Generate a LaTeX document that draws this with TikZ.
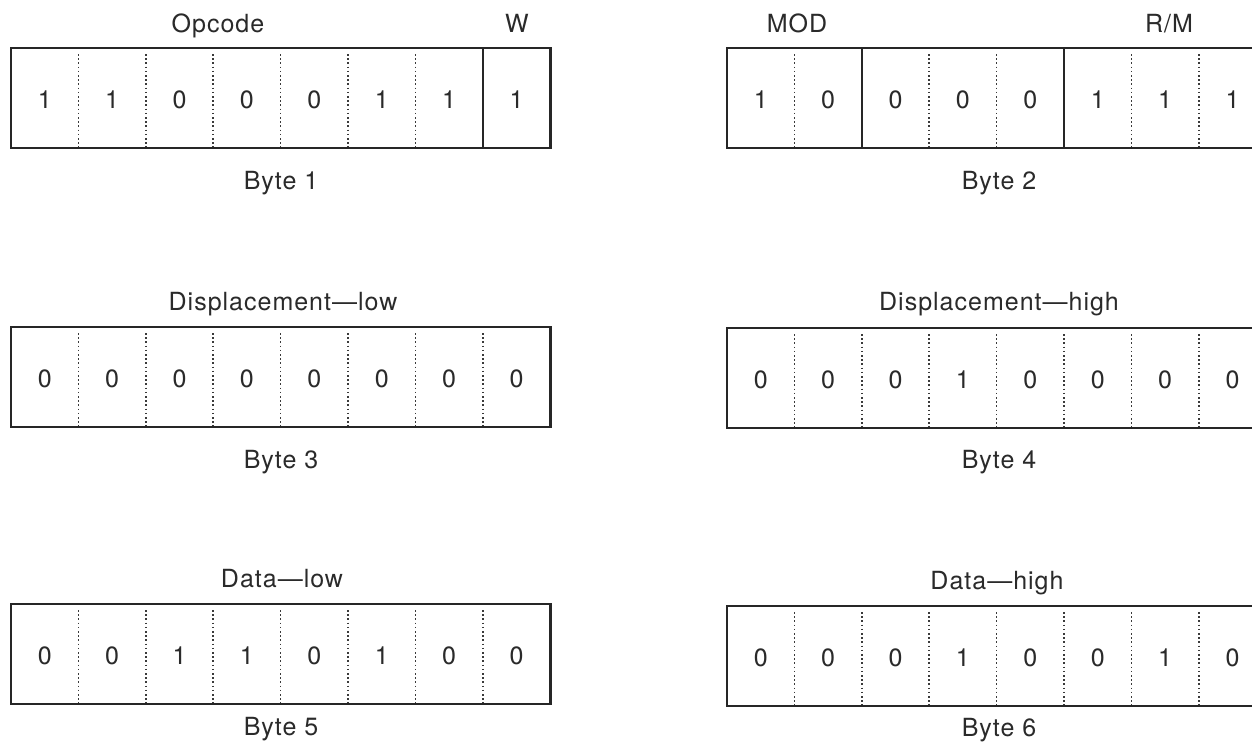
\documentclass[tikz,border=0pt]{standalone}
\usepackage{fontspec}
\setmainfont{TeX Gyre Heros}[LetterSpace=4]
\definecolor{linec}{HTML}{262626}
\definecolor{dotc}{HTML}{3A3A3A}
\definecolor{txt}{HTML}{2A2A2A}
\def\cw{67.4}
\newcommand\mybyte[4]{%
  \foreach \b [count=\i] in {#4} {
    \node[bit] (#3-\i) at ({#1+(\i-0.5)*\cw}, {#2+60}) {\b};
  }
  \foreach \i in {1,...,7} \draw[dots] ({#1+\i*\cw},{#2+6}) -- ({#1+\i*\cw},{#2+100});
  \draw[box] (#1,#2) rectangle ({#1+8*\cw},{#2+100});
}
\begin{document}
\begin{tikzpicture}[x=1pt,y=-1pt,
  box/.style={draw=linec, line width=2.6pt},
  solidsep/.style={draw=linec, line width=2.2pt},
  dots/.style={draw=dotc, line width=1.6pt, dash pattern=on 1.6pt off 2.6pt},
  bit/.style={font=\fontsize{25}{30}\selectfont, text=txt, anchor=base, inner sep=0pt},
  lab/.style={font=\fontsize{25}{30}\selectfont, text=txt, anchor=base, inner sep=0pt}]
\useasboundingbox (0,0) rectangle (1252,742);
\clip (0,0) rectangle (1252,742);
\fill[white] (0,0) rectangle (1252,742);

% Row 1
\mybyte{11}{48}{b1}{1,1,0,0,0,1,1,1}
\draw[solidsep] ({11+7*\cw},48) -- ({11+7*\cw},148);
\node[lab] (opcode) at (218,32) {Opcode};
\node[lab] (w) at (517,32) {W};
\node[lab] (byte1) at (281,189) {Byte 1};

\mybyte{727}{48}{b2}{1,0,0,0,0,1,1,1}
\draw[solidsep] ({727+2*\cw},48) -- ({727+2*\cw},148);
\draw[solidsep] ({727+5*\cw},48) -- ({727+5*\cw},148);
\node[lab] (mod) at (797,32) {MOD};
\node[lab] (rm) at (1169,32) {R/M};
\node[lab] (byte2) at (999,189) {Byte 2};

% Row 2
\mybyte{11}{327}{b3}{0,0,0,0,0,0,0,0}
\node[lab] (displow) at (283,310) {Displacement—low};
\node[lab] (byte3) at (281,468) {Byte 3};

\mybyte{727}{328}{b4}{0,0,0,1,0,0,0,0}
\node[lab] (disphigh) at (999,310) {Displacement—high};
\node[lab] (byte4) at (999,468) {Byte 4};

% Row 3
\mybyte{11}{604}{b5}{0,0,1,1,0,1,0,0}
\node[lab] (datalow) at (282,587) {Data—low};
\node[lab] (byte5) at (281,735) {Byte 5};

\mybyte{727}{606}{b6}{0,0,0,1,0,0,1,0}
\node[lab] (datahigh) at (997,589) {Data—high};
\node[lab] (byte6) at (999,736) {Byte 6};
\end{tikzpicture}
\end{document}
